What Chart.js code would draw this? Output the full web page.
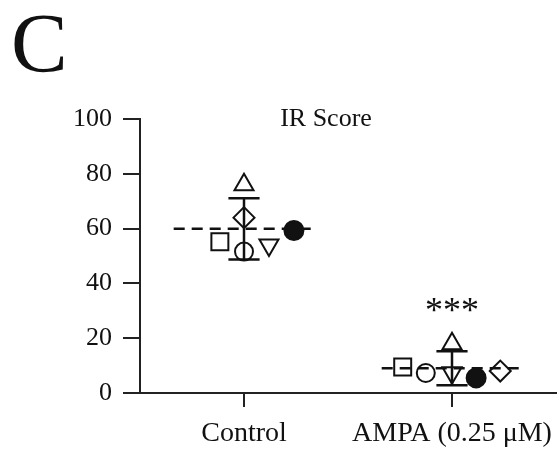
<!DOCTYPE html>
<html>
<head>
<meta charset="utf-8">
<script src="https://cdn.jsdelivr.net/npm/chart.js@4/dist/chart.umd.min.js"></script>
<style>
  html, body { margin: 0; padding: 0; background: #fff; }
  #wrap { width: 557px; height: 452px; }
</style>
</head>
<body>
<div id="wrap"><canvas id="c" width="557" height="452"></canvas></div>
<script>
// Groups on the x axis
const groups = ['Control', 'AMPA (0.25 \u03BCM)'];

// IR score per subject (one array per subject marker), [Control, AMPA]
const triUp        = [76.0, 18.0];
const diamond      = [64.0, 8.0];
const square       = [55.2, 9.5];
const circleOpen   = [51.6, 7.3];
const triDown      = [54.0, 7.4];
const circleFilled = [59.3, 5.5];

// Group summary: mean and error
const groupMean = [59.9, 9.0];
const groupErr  = [11.2, 6.2];

// Significance mark above the AMPA group
const sigText = '***';

// Y ticks
const yTicks = [0, 20, 40, 60, 80, 100];

// Horizontal scatter of the markers inside each group (in group units)
const spread = {
  triUp:        [0.0, 0.0],
  diamond:      [0.0, 0.232],
  square:       [-0.116, -0.237],
  circleOpen:   [0.0, -0.126],
  triDown:      [0.12, 0.0],
  circleFilled: [0.24, 0.116]
};

const SERIF = '"Liberation Serif", "Times New Roman", serif';
const INK = '#111';

function pts(values, offs) {
  return values.map((v, i) => ({ x: i + 1 + offs[i], y: v }));
}

function subject(label, values, offs, style, radius, filled, rotation) {
  return {
    label,
    data: pts(values, offs),
    showLine: false,
    pointStyle: style,
    pointRadius: radius,
    pointHoverRadius: radius,
    pointRotation: rotation || 0,
    pointBorderWidth: 2,
    pointBorderColor: INK,
    pointBackgroundColor: filled ? INK : 'rgba(0,0,0,0)'
  };
}

// Mean lines, error bars, significance mark and panel letter
const overlay = {
  id: 'overlay',
  beforeDatasetsDraw(chart) {
    const { ctx, scales: { x, y } } = chart;
    ctx.save();
    ctx.strokeStyle = INK;
    groupMean.forEach((m, i) => {
      const cx = x.getPixelForValue(i + 1);
      // dashed mean line
      ctx.lineWidth = 2.5;
      ctx.setLineDash([11, 7]);
      ctx.beginPath();
      ctx.moveTo(x.getPixelForValue(i + 1 - 0.338), y.getPixelForValue(m));
      ctx.lineTo(x.getPixelForValue(i + 1 + 0.338), y.getPixelForValue(m));
      ctx.stroke();
      // error bar
      ctx.setLineDash([]);
      ctx.lineWidth = 2.5;
      const top = y.getPixelForValue(m + groupErr[i]);
      const bot = y.getPixelForValue(m - groupErr[i]);
      const cap = x.getPixelForValue(i + 1 + 0.075) - cx;
      ctx.beginPath();
      ctx.moveTo(cx, top); ctx.lineTo(cx, bot);
      ctx.moveTo(cx - cap, top); ctx.lineTo(cx + cap, top);
      ctx.moveTo(cx - cap, bot); ctx.lineTo(cx + cap, bot);
      ctx.stroke();
    });
    ctx.restore();
  },
  afterDraw(chart) {
    const { ctx, scales: { x, y } } = chart;
    ctx.save();
    ctx.fillStyle = INK;
    ctx.textBaseline = 'alphabetic';
    // panel letter
    ctx.textAlign = 'left';
    ctx.font = '85px ' + SERIF;
    ctx.fillText('C', 11, 72);
    // chart title
    ctx.textAlign = 'center';
    ctx.font = '26px ' + SERIF;
    ctx.fillText('IR Score', 326, 126);
    // significance
    ctx.font = '36px ' + SERIF;
    ctx.fillText(sigText, x.getPixelForValue(2), y.getPixelForValue(26));
    ctx.restore();
  }
};

new Chart(document.getElementById('c'), {
  type: 'scatter',
  data: {
    datasets: [
      subject('triUp', triUp, spread.triUp, 'triangle', 11, false),
      subject('diamond', diamond, spread.diamond, 'rectRot', 10.5, false),
      subject('square', square, spread.square, 'rect', 12, false),
      subject('circleOpen', circleOpen, spread.circleOpen, 'circle', 9, false),
      subject('triDown', triDown, spread.triDown, 'triangle', 11, false, 180),
      subject('circleFilled', circleFilled, spread.circleFilled, 'circle', 9.5, true)
    ]
  },
  options: {
    responsive: false,
    animation: false,
    events: [],
    layout: { autoPadding: false, padding: { top: 119, right: 1, left: 0, bottom: 0 } },
    plugins: { legend: { display: false }, tooltip: { enabled: false } },
    scales: {
      x: {
        type: 'linear',
        min: 0.5,
        max: 2.5,
        afterFit(s) { s.height = 59; s.paddingLeft = 0; s.paddingRight = 0; },
        afterBuildTicks(s) { s.ticks = groups.map((g, i) => ({ value: i + 1 })); },
        border: { display: true, color: '#222', width: 2 },
        grid: { drawOnChartArea: false, drawTicks: true, tickLength: 14, tickWidth: 2, tickColor: '#222', lineWidth: 2, color: '#222' },
        ticks: {
          autoSkip: false,
          maxRotation: 0,
          padding: 10,
          color: INK,
          font: { family: SERIF, size: 28 },
          callback(v) { return groups[Math.round(v) - 1] || ''; }
        }
      },
      y: {
        min: 0,
        max: 100,
        afterFit(s) { s.width = 140; s.paddingTop = 0; s.paddingBottom = 0; },
        afterBuildTicks(s) { s.ticks = yTicks.map(v => ({ value: v })); },
        border: { display: true, color: '#222', width: 2 },
        grid: { drawOnChartArea: false, drawTicks: true, tickLength: 17, tickWidth: 2, tickColor: '#222', lineWidth: 2, color: '#222' },
        ticks: {
          padding: 11,
          color: INK,
          font: { family: SERIF, size: 26 }
        }
      }
    }
  },
  plugins: [overlay]
});
</script>
</body>
</html>
